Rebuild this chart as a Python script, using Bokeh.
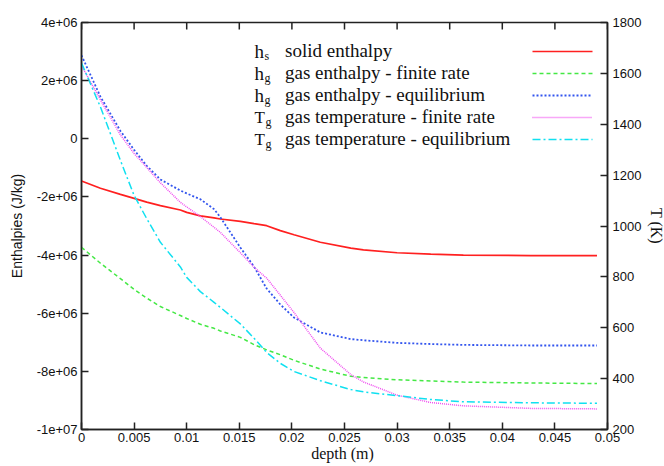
import math
from bokeh.plotting import figure
from bokeh.models import Range1d, LinearAxis, FixedTicker, Label, Legend, LegendItem
from bokeh.embed import file_html
from bokeh.resources import INLINE

# ---------------- data ----------------
depth = [0.0, 0.0018, 0.0037, 0.005, 0.0062, 0.0075, 0.0094, 0.01, 0.0113, 0.0126,
         0.0132, 0.0151, 0.0164, 0.0176, 0.0189, 0.0202, 0.0227, 0.0256, 0.0268,
         0.030, 0.0332, 0.0363, 0.0427, 0.049]

h_solid = [-1.45e6, -1.70e6, -1.91e6, -2.05e6, -2.18e6, -2.30e6, -2.45e6, -2.53e6,
           -2.65e6, -2.72e6, -2.76e6, -2.84e6, -2.92e6, -2.99e6, -3.16e6, -3.30e6,
           -3.56e6, -3.76e6, -3.82e6, -3.92e6, -3.97e6, -4.00e6, -4.02e6, -4.02e6]

h_gas_finite = [-3.73e6, -4.28e6, -4.81e6, -5.18e6, -5.48e6, -5.77e6, -6.08e6, -6.18e6,
                -6.38e6, -6.52e6, -6.61e6, -6.83e6, -7.08e6, -7.26e6, -7.43e6, -7.62e6,
                -7.92e6, -8.17e6, -8.21e6, -8.29e6, -8.33e6, -8.37e6, -8.40e6, -8.42e6]

h_gas_equil = [2.87e6, 1.45e6, 0.27e6, -0.38e6, -0.93e6, -1.40e6, -1.78e6, -1.88e6,
               -2.08e6, -2.42e6, -2.70e6, -3.74e6, -4.40e6, -5.15e6, -5.70e6, -6.15e6,
               -6.66e6, -6.89e6, -6.93e6, -7.02e6, -7.06e6, -7.09e6, -7.11e6, -7.11e6]

T_gas_finite = [1630, 1496, 1358, 1285, 1230, 1170, 1093, 1075, 1037, 995,
                975, 895, 838, 795, 728, 660, 520, 416, 387, 335, 306, 293, 283, 281]

T_gas_equil = [1641, 1468, 1258, 1120, 1029, 936, 839, 798, 742, 700,
               680, 615, 559, 503, 460, 428, 392, 357, 348, 333, 318, 309, 305, 303]

x_ticks = [0, 0.005, 0.01, 0.015, 0.02, 0.025, 0.03, 0.035, 0.04, 0.045, 0.05]
x_tick_labels = ["0", "0.005", "0.01", "0.015", "0.02", "0.025", "0.03", "0.035",
                 "0.04", "0.045", "0.05"]
y_ticks = [4e6, 2e6, 0, -2e6, -4e6, -6e6, -8e6, -1e7]
y_tick_labels = ["4e+06", "2e+06", "0", "-2e+06", "-4e+06", "-6e+06", "-8e+06", "-1e+07"]
t_ticks = [200, 400, 600, 800, 1000, 1200, 1400, 1600, 1800]
t_tick_labels = [str(t) for t in t_ticks]

legend_symbols = [("h", "s"), ("h", "g"), ("h", "g"), ("T", "g"), ("T", "g")]
legend_texts = ["solid enthalpy", "gas enthalpy - finite rate", "gas enthalpy - equilibrium",
                "gas temperature - finite rate", "gas temperature - equilibrium"]

x_min, x_max = 0.0, 0.05
y_min, y_max = -1e7, 4e6
t_min, t_max = 200, 1800

# ---------------- figure ----------------
SANS = "Liberation Sans"
SERIF = "Liberation Serif"
BL, BR, BT, BB = 81, 57, 22, 37
FW, FH = 664 - BL - BR, 466 - BT - BB

p = figure(frame_width=FW, frame_height=FH, x_range=Range1d(x_min, x_max),
           y_range=Range1d(y_min, y_max), output_backend="svg", toolbar_location=None,
           min_border_left=BL, min_border_right=BR, min_border_top=BT, min_border_bottom=BB)
p.extra_y_ranges = {"T": Range1d(t_min, t_max), "px": Range1d(FH, 0)}
p.extra_x_ranges = {"px": Range1d(0, FW)}
p.xgrid.visible = False
p.ygrid.visible = False
p.outline_line_color = "#222222"
p.outline_line_width = 1.5
p.background_fill_color = "white"
p.border_fill_color = "white"


def style_axis(ax, ticks, labels, font_size="13px"):
    ax.ticker = FixedTicker(ticks=ticks)
    ax.major_label_overrides = {t: l for t, l in zip(ticks, labels)}
    ax.minor_tick_line_color = None
    ax.major_tick_in = 7
    ax.major_tick_out = 0
    ax.major_tick_line_width = 1.5
    ax.major_tick_line_color = "#222222"
    ax.axis_line_width = 1.5
    ax.axis_line_color = "#222222"
    ax.major_label_text_font = SANS
    ax.major_label_text_font_size = font_size
    ax.major_label_text_color = "#111111"
    ax.major_label_standoff = 4
    ax.axis_label_text_font_style = "normal"
    ax.axis_label_text_color = "#111111"


xa = p.xaxis[0]
style_axis(xa, x_ticks, x_tick_labels)
xa.axis_label = "depth  (m)"
xa.axis_label_text_font = SERIF
xa.axis_label_text_font_size = "16px"
xa.axis_label_standoff = 0
xa.major_label_standoff = 3

ya = p.yaxis[0]
style_axis(ya, y_ticks, y_tick_labels)
ya.axis_label = "Enthalpies (J/kg)"
ya.axis_label_text_font = SANS
ya.axis_label_text_font_size = "14px"
ya.axis_label_standoff = 9

ra = LinearAxis(y_range_name="T")
style_axis(ra, t_ticks, t_tick_labels)
ra.major_label_standoff = 5
ra.axis_label = "T (K)"
ra.axis_label_text_font = SERIF
ra.axis_label_text_font_size = "16px"
ra.axis_label_standoff = 4
p.add_layout(ra, "right")

# tick marks along the top edge (clipped to the frame, so only the inner half shows)
p.scatter(x_ticks, [y_max] * len(x_ticks), marker="dash", angle=math.pi / 2, size=14,
          line_color="#222222", line_width=1.5)

# ---------------- lines ----------------
styles = [dict(line_color="#ff2020", line_width=1.7),
          dict(line_color="#44e844", line_width=1.5, line_dash="4 3"),
          dict(line_color="#3355ee", line_width=1.8, line_dash="2 2"),
          dict(line_color="#f050f0", line_width=1.5, line_dash="1 1"),
          dict(line_color="#10e0f0", line_width=1.5, line_dash="8 3 2 3")]

r_hs = p.line(depth, h_solid, **styles[0])
r_hgf = p.line(depth, h_gas_finite, **styles[1])
r_hge = p.line(depth, h_gas_equil, **styles[2])
r_tgf = p.line(depth, T_gas_finite, y_range_name="T", **styles[3])
r_tge = p.line(depth, T_gas_equil, y_range_name="T", **styles[4])
renderers = [r_hs, r_hgf, r_hge, r_tgf, r_tge]

# legend texts (keys are drawn to their right, below)
LEG_MARGIN, ROW_H, TEXT_W = 18, 22, 304
legend = Legend(items=[LegendItem(label=t, renderers=[r]) for t, r in zip(legend_texts, renderers)],
                location="top_right", glyph_width=0, glyph_height=ROW_H, label_width=TEXT_W,
                label_height=ROW_H, label_standoff=0, spacing=0, padding=0, margin=LEG_MARGIN,
                border_line_alpha=0, background_fill_alpha=0,
                label_text_font=SERIF, label_text_font_size="19px", label_text_color="#111111")
p.add_layout(legend)

# legend keys: short line samples on the right of each text row (frame pixel space)
KEY_LEN, KEY_GAP = 60, 15
for i, st in enumerate(styles):
    row_y = LEG_MARGIN + ROW_H * (i + 0.5)
    p.line([FW - KEY_GAP - KEY_LEN, FW - KEY_GAP], [row_y, row_y],
           x_range_name="px", y_range_name="px", **st)

# symbols in front of the legend texts
text_x = FW - LEG_MARGIN - TEXT_W
for i, (sym, sub) in enumerate(legend_symbols):
    off = LEG_MARGIN + ROW_H * (i + 0.5)
    big = "19px" if sym == "h" else "17px"
    p.add_layout(Label(x=text_x - 31, x_units="screen", y=y_max, y_units="data", y_offset=-off,
                       text=sym, text_baseline="middle", text_font=SERIF,
                       text_font_size=big, text_color="#111111"))
    p.add_layout(Label(x=text_x - 21 + (0 if sym == "h" else 1), x_units="screen", y=y_max,
                       y_units="data", y_offset=-off - 4, text=sub, text_baseline="middle",
                       text_font=SERIF, text_font_size="12px", text_color="#111111"))

open("out.html", "w").write(file_html(p, INLINE))
